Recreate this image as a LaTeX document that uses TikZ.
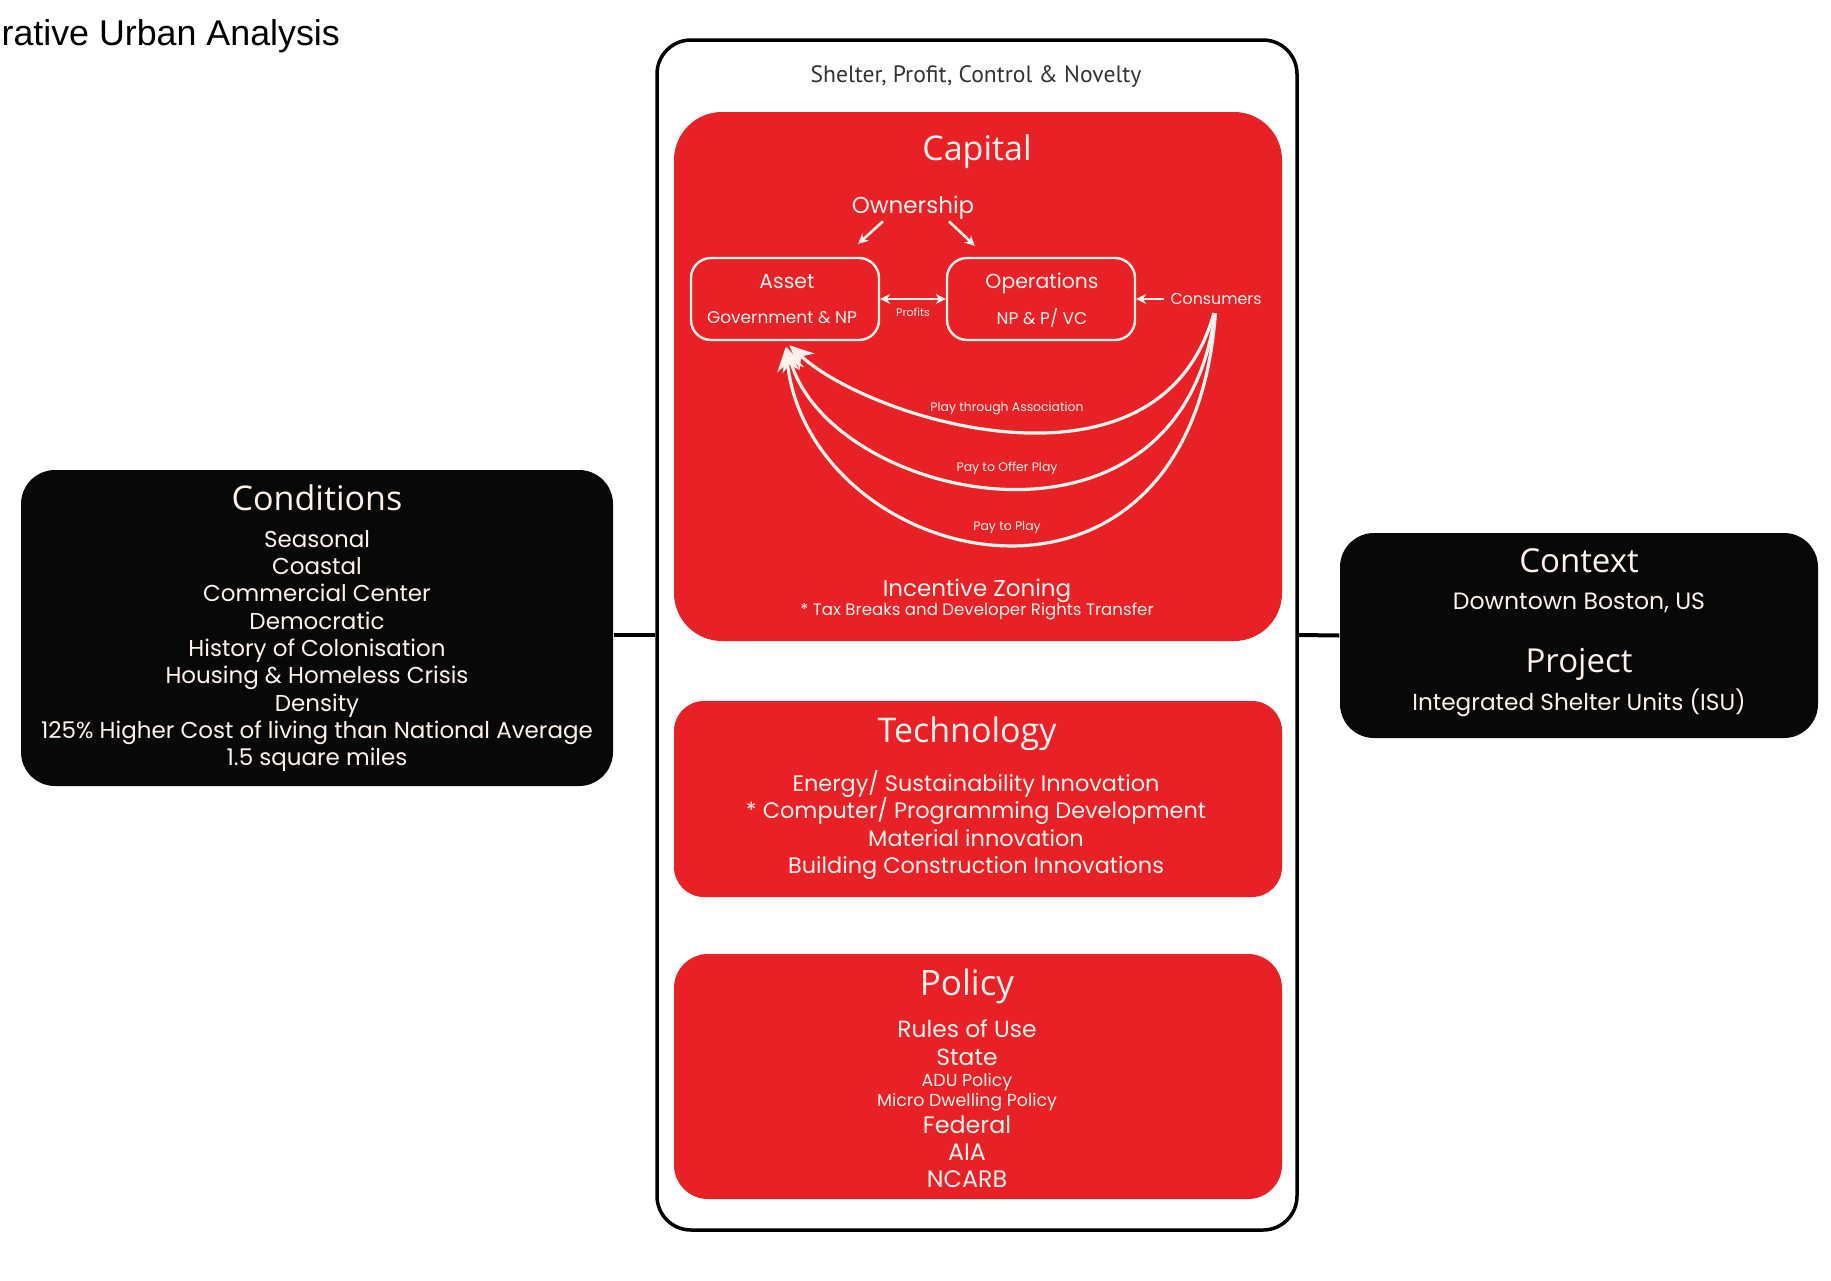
\documentclass[tikz,border=0pt]{standalone}
\usepackage{fontspec}
\setmainfont{Poppins}
\newfontfamily\headfont{Open Sans}
\newfontfamily\slidefont{Liberation Sans}
\newfontfamily\tagfont{PT Sans}
\usetikzlibrary{positioning, arrows.meta}

\definecolor{capred}{RGB}{232,33,39}
\definecolor{boxblack}{RGB}{8,8,8}
\definecolor{softwhite}{RGB}{255,242,236}

\tikzset{
    redbox/.style = {fill = capred, inner sep = 0pt, minimum width = 304pt},
    blackbox/.style = {fill = boxblack, rounded corners = 17pt, inner sep = 0pt},
    wtext/.style = {text = softwhite, align = center, inner sep = 0pt},
    wbox/.style = {draw = softwhite, line width = 1.2pt, rounded corners = 10pt,
        minimum width = 94pt, minimum height = 41pt, inner sep = 0pt},
    wline/.style = {draw = softwhite, line width = 1.3pt},
    payline/.style = {draw = softwhite, line width = 1.6pt,
        -{Stealth[length = 12pt, width = 11pt]}, shorten < = 4pt, shorten > = 3pt},
}

\begin{document}
\begin{tikzpicture}[x = 0.5pt, y = -0.5pt, % one unit = one pixel of the slide
                > = {Stealth[length = 5pt, width = 5pt]},
                semithick
            ]

            \useasboundingbox (0,0) rectangle (1831,1280);

            \node[anchor = base west, inner sep = 0pt, font = \slidefont\fontsize{17.9}{20}\selectfont]
                (head) at (1,45) {rative Urban Analysis};

            % the frame in the middle
            \node[draw = black, line width = 1.75pt, rounded corners = 17pt,
                minimum width = 320pt, minimum height = 595pt] (frame) at (977,635) {};
            \node[inner sep = 0pt, text = black!80, font = \tagfont\fontsize{11.8}{14}\selectfont]
                (aims) at (976,77) {Shelter, Profit, Control \& Novelty};

            % capital
            \node[redbox, rounded corners = 24pt, minimum height = 264.5pt] (cap) at (978,376.5) {};
            \node[wtext, font = \headfont\fontsize{17}{20}\selectfont] (captitle) at (977,152) {Capital};
            \node[wtext, font = \fontsize{11.5}{13}\selectfont] (own) at (913,208) {Ownership};
            \node[wbox] (asset) at (785,299) {};
            \node[wbox] (ops) at (1041,299) {};
            \node[wtext, font = \fontsize{10.2}{12}\selectfont] (assett) at (787,282) {Asset};
            \node[wtext, font = \fontsize{8.5}{10}\selectfont] (assets) at (782,318) {Government \& NP};
            \node[wtext, font = \fontsize{10.2}{12}\selectfont] (opst) at (1042,283) {Operations};
            \node[wtext, font = \fontsize{8.5}{10}\selectfont] (opss) at (1042,318) {NP \& P/ VC};
            \node[wtext, font = \fontsize{7.9}{10}\selectfont] (cons) at (1216,299) {Consumers};
            \node[wtext, font = \fontsize{5.5}{7}\selectfont] (prof) at (913,312) {Profits};

            \draw[wline, ->] ([xshift = -15pt, yshift = -0.5pt]own.south)
                -- ([xshift = -11pt, yshift = 6.5pt]asset.north east);
            \draw[wline, ->] ([xshift = 18pt, yshift = -0.5pt]own.south)
                -- ([xshift = 14.5pt, yshift = 5.5pt]ops.north west);
            \draw[wline, <->] (asset.east) -- (ops.west);
            \draw[wline, ->, shorten < = 3pt] (cons) -- (ops);

            % the three payments come back to the asset
            \draw[payline] (cons.south) .. controls (1160,510) and (870,420) .. (asset.south);
            \draw[payline] (cons.south) .. controls (1180,580) and (830,500) .. (asset.south);
            \draw[payline] (cons.south) .. controls (1190,660) and (810,570) .. (asset.south);
            \node[wtext, font = \fontsize{6.2}{8}\selectfont] (play1) at (1007,408) {Play through Association};
            \node[wtext, font = \fontsize{6.2}{8}\selectfont] (play2) at (1007,468) {Pay to Offer Play};
            \node[wtext, font = \fontsize{6.2}{8}\selectfont] (play3) at (1007,528) {Pay to Play};

            \node[wtext, font = \fontsize{11.5}{13}\selectfont] (zone) at (977,591) {Incentive Zoning};
            \node[wtext, font = \fontsize{8.3}{10}\selectfont] (zonesub) at (977,611)
                {* Tax Breaks and Developer Rights Transfer};

            % technology
            \node[redbox, rounded corners = 15pt, minimum height = 98pt] (tech) at (978,799) {};
            \node[wtext, font = \headfont\fontsize{17}{19}\selectfont] (techtitle) at (967,734) {Technology};
            \node[wtext, font = \fontsize{11.2}{13.8}\selectfont] (techlist) at (976,825)
                {Energy/ Sustainability Innovation\\* Computer/ Programming Development\\
                 Material innovation\\Building Construction Innovations};

            % policy
            \node[redbox, rounded corners = 17pt, minimum height = 122.5pt] (pol) at (978,1076.5) {};
            \node[wtext, font = \headfont\fontsize{17.5}{20}\selectfont] (poltitle) at (967,986) {Policy};
            \node[wtext, font = \fontsize{11.7}{14}\selectfont] (state) at (967,1043) {Rules of Use\\State};
            \node[wtext, font = \fontsize{8.7}{10}\selectfont] (adu) at (967,1092)
                {ADU Policy\\Micro Dwelling Policy};
            \node[wtext, font = \fontsize{11.9}{13.5}\selectfont] (fed) at (967,1152) {Federal\\AIA\\NCARB};

            % conditions
            \node[blackbox, minimum width = 296pt, minimum height = 158pt] (cond) at (317,628) {};
            \node[wtext, font = \headfont\fontsize{17}{19}\selectfont] (condtitle) at (317,498) {Conditions};
            \node[wtext, font = \fontsize{11.5}{13.65}\selectfont] (condlist) at (317,651)
                {Seasonal\\Coastal\\Commercial Center\\Democratic\\History of Colonisation\\
                 Housing \& Homeless Crisis\\Density\\125\% Higher Cost of living than National Average\\
                 1.5 square miles};

            % context
            \node[blackbox, minimum width = 239pt, minimum height = 102.5pt] (ctx) at (1579,635.5) {};
            \node[wtext, font = \headfont\fontsize{16.5}{18}\selectfont] (ctxtitle) at (1579,561) {Context};
            \node[wtext, font = \fontsize{11.8}{13}\selectfont] (ctxsub) at (1579,603) {Downtown Boston, US};
            \node[wtext, font = \headfont\fontsize{16.5}{18}\selectfont] (projtitle) at (1579,664) {Project};
            \node[wtext, font = \fontsize{11.6}{13}\selectfont] (projsub) at (1579,703) {Integrated Shelter Units (ISU)};

            \draw[line width = 2pt] (cond.east |- frame.west) -- (frame.west);
            \draw[line width = 2pt] (frame.east) -- (ctx.west);
        \end{tikzpicture}
\end{document}
